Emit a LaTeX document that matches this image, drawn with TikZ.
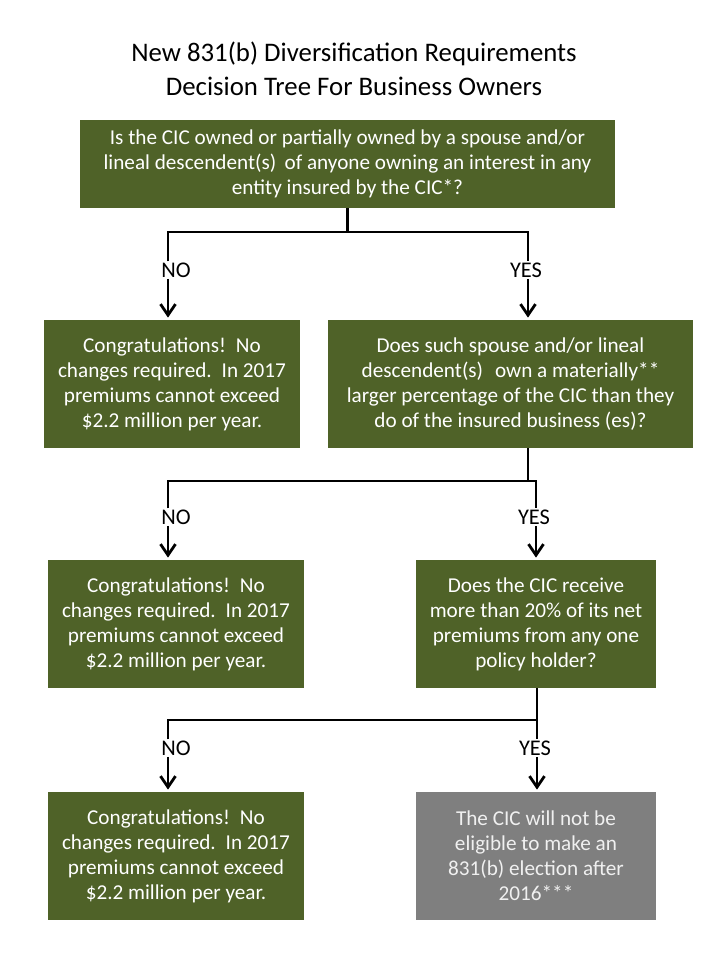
\documentclass[tikz,border=0pt]{standalone}
\usepackage{fontspec}
\setmainfont{Carlito}
\usepackage{xcolor}
\usepackage{tikz}
\usetikzlibrary{arrows.meta, positioning, calc}

\definecolor{olivebox}{HTML}{4F6228}
\definecolor{greybox}{HTML}{7F7F7F}

\begin{document}
\begin{tikzpicture}[
  x=0.5pt, y=-0.5pt,
  box/.style={rectangle, fill=olivebox, text=white, align=center,
    inner sep=0pt, minimum height=64pt,
    font=\fontsize{10.6}{12.5}\selectfont},
  ans/.style={font=\fontsize{11.2}{13}\selectfont, inner sep=0.5pt},
  link/.style={line width=1.4pt},
  arr/.style={link, -{Straight Barb[length=5.5pt, width=7.5pt]}, shorten >=1pt},
]
\useasboundingbox (0,0) rectangle (720,960);

% title
\node[align=center, font=\fontsize{13.4}{17}\selectfont] (title) at (354,69)
  {New 831(b) Diversification Requirements\\Decision Tree For Business Owners};

% questions and outcomes
\node[box, minimum width=267.5pt, minimum height=44pt] (q1) at (347.5,164)
  {Is the CIC owned or partially owned by a spouse and/or\\
   lineal descendent(s)\, of anyone owning an interest in any\\
   entity insured by the CIC*?};

\node[box, minimum width=128pt] (no1) at (172,384)
  {Congratulations!\, No\\changes required.\, In 2017\\premiums cannot exceed\\\$2.2 million per year.};
\node[box, minimum width=182.5pt] (q2) at (510.5,384)
  {Does such spouse and/or lineal\\descendent(s)\,\, own a materially**\\
   larger percentage of the CIC than they\\do of the insured business (es)?};

\node[box, minimum width=128pt] (no2) at (176,624)
  {Congratulations!\, No\\changes required.\, In 2017\\premiums cannot exceed\\\$2.2 million per year.};
\node[box, minimum width=120pt] (q3) at (536,624)
  {Does the CIC receive\\more than 20\% of its net\\premiums from any one\\policy holder?};

\node[box, minimum width=128pt] (no3) at (176,856)
  {Congratulations!\, No\\changes required.\, In 2017\\premiums cannot exceed\\\$2.2 million per year.};
\node[box, fill=greybox, text=white!94!black, minimum width=120pt] (res) at (536,856)
  {The CIC will not be\\eligible to make an\\831(b) election after\\2016***};

% answer labels
\node[ans] (n1) at (176,270) {NO};
\node[ans] (y1) at (526,270) {YES};
\node[ans] (n2) at (176,517) {NO};
\node[ans] (y2) at (534,517) {YES};
\node[ans] (n3) at (176,748) {NO};
\node[ans] (y3) at (535,748) {YES};

% split points and bar ends
\coordinate (s1) at (347.5,232);
\coordinate (s2) at (528,481);
\coordinate (s3) at (537,720);
\coordinate (b1) at (168,232);
\coordinate (b2) at (168,481);
\coordinate (b3) at (168,720);
\coordinate (e1) at (528,232);
\coordinate (e2) at (536,481);
\coordinate (e3) at (537,720);

% connectors
\draw[link] (q1.south) -- (s1);
\draw[link] (b1 |- n1.north) -- (b1) -- (e1) -- (e1 |- y1.north);
\draw[arr] (b1 |- n1.south) -- (b1 |- no1.north);
\draw[arr] (e1 |- y1.south) -- (e1 |- q2.north);

\draw[link] (q2.south -| s2) -- (s2);
\draw[link] (b2 |- n2.north) -- (b2) -- (e2) -- (e2 |- y2.north);
\draw[arr] (b2 |- n2.south) -- (b2 |- no2.north);
\draw[arr] (e2 |- y2.south) -- (e2 |- q3.north);

\draw[link] (q3.south -| s3) -- (s3);
\draw[link] (b3 |- n3.north) -- (b3) -- (e3) -- (e3 |- y3.north);
\draw[arr] (b3 |- n3.south) -- (b3 |- no3.north);
\draw[arr] (e3 |- y3.south) -- (e3 |- res.north);

\end{tikzpicture}
\end{document}
